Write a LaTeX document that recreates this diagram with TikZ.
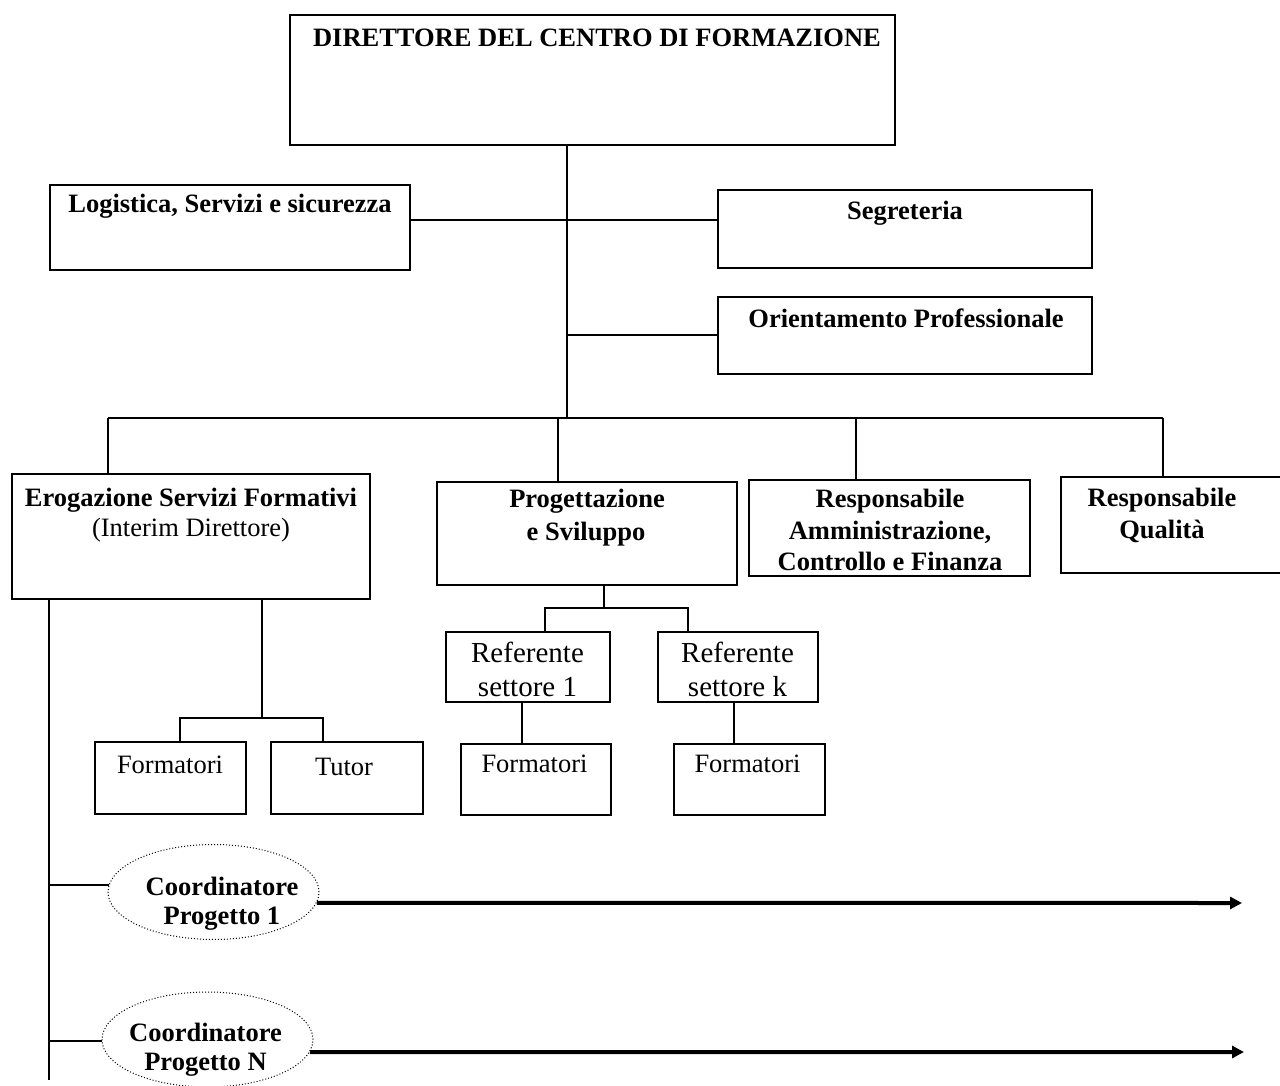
\documentclass[tikz,border=0pt]{standalone}
\usepackage{fontspec}
\setmainfont{Liberation Serif}
\usetikzlibrary{arrows.meta,shapes.geometric}
\tikzset{
  box/.style={draw, line width=2pt, inner sep=0pt, outer sep=0pt},
  conn/.style={line width=2pt},
  bt/.style={anchor=base, inner sep=0pt, font=\fontsize{26.5}{30}\selectfont\bfseries},
  rt/.style={anchor=base, inner sep=0pt, font=\fontsize{26.5}{30}\selectfont},
  rtl/.style={anchor=base, inner sep=0pt, font=\fontsize{29}{33}\selectfont},
  coord/.style={draw, ellipse, dotted, line width=1pt, inner sep=0pt, minimum width=211pt, minimum height=95pt},
  flow/.style={line width=4pt, -{Triangle[length=12pt,width=12pt]}}
}
\begin{document}
\begin{tikzpicture}[x=1pt,y=-1pt]
\useasboundingbox (0,0) rectangle (1280,1086);
% boxes
\node[box, minimum width=605pt, minimum height=130pt] (dir) at (592.5,80) {};
\node[box, minimum width=360pt, minimum height=85pt] (log) at (230,227.5) {};
\node[box, minimum width=374pt, minimum height=78pt] (seg) at (905,229) {};
\node[box, minimum width=374pt, minimum height=77pt] (ori) at (905,335.5) {};
\node[box, minimum width=358pt, minimum height=125pt] (ero) at (191,536.5) {};
\node[box, minimum width=300pt, minimum height=103pt] (prog) at (587,533.5) {};
\node[box, minimum width=281pt, minimum height=96pt] (amm) at (889.5,528) {};
\node[box, minimum width=229pt, minimum height=96pt] (qual) at (1175.5,525) {};
\node[box, minimum width=164pt, minimum height=70pt] (ref1) at (528,667) {};
\node[box, minimum width=160pt, minimum height=70pt] (refk) at (738,667) {};
\node[box, minimum width=150pt, minimum height=71pt] (form1) at (536,779.5) {};
\node[box, minimum width=151pt, minimum height=71pt] (formk) at (749.5,779.5) {};
\node[box, minimum width=151pt, minimum height=72pt] (formL) at (170.5,778) {};
\node[box, minimum width=152pt, minimum height=72pt] (tutor) at (347,778) {};
\node[coord] (e1) at (213.5,892) {};
\node[coord] (e2) at (207.5,1039.5) {};
% texts
\node[bt] (tdir) at (597,47) {DIRETTORE DEL CENTRO DI FORMAZIONE};
\node[bt] (tlog) at (230,213) {Logistica, Servizi e sicurezza};
\node[bt] (tseg) at (905,220) {Segreteria};
\node[bt] (tori) at (906,327) {Orientamento Professionale};
\node[bt] (tero1) at (191,506) {Erogazione Servizi Formativi};
\node[rt] (tero2) at (191,536) {(Interim Direttore)};
\node[bt] (tprog1) at (587,507) {Progettazione};
\node[bt] (tprog2) at (586,540) {e Sviluppo};
\node[bt] (tamm1) at (890,507) {Responsabile};
\node[bt] (tamm2) at (890,539) {Amministrazione,};
\node[bt] (tamm3) at (890,570) {Controllo e Finanza};
\node[bt] (tqual1) at (1162,506) {Responsabile};
\node[bt] (tqual2) at (1162,538) {Qualità};
\node[rtl] (tref1a) at (527.5,662) {Referente};
\node[rtl] (tref1b) at (527.5,696) {settore 1};
\node[rtl] (trefka) at (737.5,662) {Referente};
\node[rtl] (trefkb) at (737.5,696) {settore k};
\node[rt] (tform1) at (534.5,772) {Formatori};
\node[rt] (tformk) at (747.5,772) {Formatori};
\node[rt] (tformL) at (170,773) {Formatori};
\node[rt] (ttutor) at (344,775) {Tutor};
\node[bt] (te1a) at (222,895) {Coordinatore};
\node[bt] (te1b) at (222,924) {Progetto 1};
\node[bt] (te2a) at (205.5,1041) {Coordinatore};
\node[bt] (te2b) at (205.5,1070) {Progetto N};
% coordinates
\coordinate (bus) at (567,418);
\coordinate (j1) at (567,220);
\coordinate (j2) at (567,335);
\coordinate (bL) at (108,418);
\coordinate (bP) at (558,418);
\coordinate (bA) at (856,418);
\coordinate (bR) at (1163,418);
\coordinate (pj) at (604,608);
\coordinate (pl) at (545,608);
\coordinate (pr) at (688,608);
\coordinate (ej) at (262,718);
\coordinate (el) at (180,718);
\coordinate (er) at (323,718);
\coordinate (sp) at (49,1080);
% connectors
\draw[conn] (dir.south -| bus) -- (bus);
\draw[conn] (log.east |- j1) -- (seg.west |- j1);
\draw[conn] (j2) -- (ori.west |- j2);
\draw[conn] (bL) -- (bR);
\draw[conn] (bL) -- (ero.north -| bL);
\draw[conn] (bP) -- (prog.north -| bP);
\draw[conn] (bA) -- (amm.north -| bA);
\draw[conn] (bR) -- (qual.north -| bR);
\draw[conn] (prog.south -| pj) -- (pj);
\draw[conn] (ref1.north -| pl) -- (pl) -- (pr) -- (refk.north -| pr);
\draw[conn] (ref1.south -| 522,0) -- (form1.north -| 522,0);
\draw[conn] (refk.south -| 734,0) -- (formk.north -| 734,0);
\draw[conn] (ero.south -| ej) -- (ej);
\draw[conn] (formL.north -| el) -- (el) -- (er) -- (tutor.north -| er);
\draw[conn] (ero.south -| sp) -- (sp);
\draw[conn] (e1.176 -| sp) -- (e1.176);
\draw[conn] (e2.181 -| sp) -- (e2.181);
\coordinate (a1) at (1242,903);
\coordinate (a2) at (1244,1052);
\draw[flow] (e1.-6) -- (a1);
\draw[flow] (e2.-7) -- (a2);
\end{tikzpicture}
\end{document}
